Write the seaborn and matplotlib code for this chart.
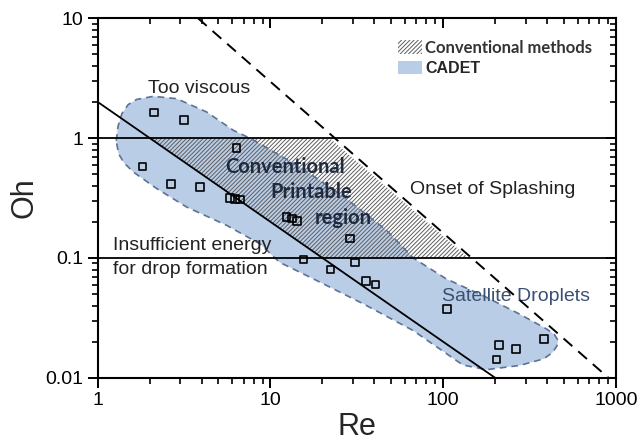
import numpy as np
import pandas as pd
import seaborn as sns
import matplotlib.pyplot as plt
from matplotlib.patches import Patch
from matplotlib.ticker import FixedLocator, NullFormatter

# measured printing points (Re, Oh)
re_pts = [2.12, 3.17, 6.37, 1.82, 2.65, 3.91, 5.83, 6.22, 6.64, 12.4, 13.3, 14.2,
          28.8, 15.5, 22.3, 30.8, 35.7, 40.5, 105.5, 210, 203, 264, 383]
oh_pts = [1.63, 1.42, 0.83, 0.58, 0.416, 0.39, 0.318, 0.312, 0.308, 0.219, 0.213, 0.203,
          0.145, 0.097, 0.080, 0.092, 0.064, 0.060, 0.0377, 0.0188, 0.0142, 0.0175, 0.0211]

# We = 4 limit (solid) and splashing limit (dashed)
we_re = [1, 200]
we_oh = [2.0, 0.01]
splash_re = [3.8, 905]
splash_oh = [10, 0.01]
z_limits = [1, 0.1]

# conventional printable region (hatched)
conv_re = [2.0, 22.0, 140, 20]
conv_oh = [1.0, 1.0, 0.1, 0.1]

# CADET region outline
cadet_re = [1.28, 1.31, 1.38, 1.5, 1.68, 2.1, 2.87, 4.27, 6.1, 7.8, 14.8, 25.2, 47, 67,
            104, 178, 277, 396, 440, 462, 455, 430, 381, 277, 178, 130, 67, 34.4,
            17.7, 11.3, 8.7, 5.58, 3.27, 2.19, 1.61, 1.42, 1.32]
cadet_oh = [0.95, 1.25, 1.6, 1.9, 2.1, 2.23, 2.13, 1.65, 1.16, 0.98, 0.573, 0.343, 0.17, 0.1,
            0.067, 0.047, 0.034, 0.0256, 0.023, 0.0205, 0.0185, 0.0163, 0.0144, 0.0127,
            0.0117, 0.0128, 0.0248, 0.0415, 0.067, 0.092, 0.131, 0.187, 0.266, 0.38, 0.52,
            0.62, 0.74]

x_major = [1, 10, 100, 1000]
y_major = [0.01, 0.1, 1, 10]

sns.set_style("ticks")
plt.rcParams['font.family'] = ['Liberation Sans', 'DejaVu Sans']
plt.rcParams['hatch.linewidth'] = 0.7
plt.rcParams['axes.edgecolor'] = 'black'

fig, ax = plt.subplots(figsize=(6.43, 4.43), dpi=100)
fig.subplots_adjust(left=0.152, right=0.958, top=0.959, bottom=0.147)

blue = '#bacde7'
hatch_col = '#5e5e5e'
ax.fill(cadet_re, cadet_oh, facecolor=blue, edgecolor='none', zorder=1)
ax.fill(conv_re, conv_oh, facecolor='none', edgecolor=hatch_col, lw=0,
        hatch='////////', zorder=2)
ax.fill(cadet_re, cadet_oh, facecolor='none', edgecolor='#5d7294', lw=1.2,
        linestyle=(0, (4, 3)), zorder=3)
for z in z_limits:
    ax.axhline(z, color='black', lw=1.3, zorder=4)
sns.lineplot(x=we_re, y=we_oh, color='black', lw=1.3, ax=ax, zorder=4)
sns.lineplot(x=splash_re, y=splash_oh, color='black', lw=1.4, ax=ax, zorder=4,
             linestyle=(0, (6, 4)))
df = pd.DataFrame({'Re': re_pts, 'Oh': oh_pts})
sns.scatterplot(data=df, x='Re', y='Oh', marker='s', s=30, facecolor='none',
                edgecolor='black', linewidth=1.2, ax=ax, zorder=5)

ax.set_xscale('log')
ax.set_yscale('log')
ax.set_xlim(1, 1000)
ax.set_ylim(0.01, 10)

# minor tick positions 2..9 in every decade
x_minor = [k * d for d in x_major[:-1] for k in range(2, 10)]
y_minor = [k * d for d in y_major[:-1] for k in range(2, 10)]

ax.xaxis.set_major_locator(FixedLocator(x_major))
ax.yaxis.set_major_locator(FixedLocator(y_major))
ax.set_xticklabels(['1', '10', '100', '1000'])
ax.set_yticklabels(['0.01', '0.1', '1', '10'])
ax.xaxis.set_minor_locator(FixedLocator(x_minor))
ax.yaxis.set_minor_locator(FixedLocator(y_minor))
ax.xaxis.set_minor_formatter(NullFormatter())
ax.yaxis.set_minor_formatter(NullFormatter())
ax.tick_params(axis='both', which='major', labelsize=14, length=7, width=1.4,
               direction='out', color='black', labelcolor='black')
ax.tick_params(axis='both', which='minor', length=4.5, width=1.2, direction='out',
               color='black')
for sp in ax.spines.values():
    sp.set_linewidth(1.5)
ax.set_xlabel('Re', fontsize=22, labelpad=2)
ax.set_ylabel('Oh', fontsize=22, labelpad=4)

# region annotations
ax.text(1.96, 2.6, 'Too viscous', fontsize=14, va='center', color='#222222')
bold = dict(family=['Lato', 'DejaVu Sans'], fontweight='bold', fontsize=14.5,
            color='#1e2a3f', va='center')
ax.text(5.45, 0.573, 'Conventional', **bold)
ax.text(9.94, 0.354, 'Printable', **bold)
ax.text(18.1, 0.217, 'region', **bold)
ax.text(64.2, 0.371, 'Onset of Splashing', fontsize=14, va='center', color='#222222')
ax.text(1.22, 0.127, 'Insufficient energy', fontsize=14, va='center', color='#222222')
ax.text(1.22, 0.080, 'for drop formation', fontsize=14, va='center', color='#222222')
ax.text(98, 0.0477, 'Satellite Droplets', fontsize=14, va='center', color='#3b4f73')

handles = [Patch(facecolor='white', edgecolor=hatch_col, lw=0, hatch='////////'),
           Patch(facecolor=blue, edgecolor='none')]
leg = ax.legend(handles, ['Conventional methods', 'CADET'], loc='upper left',
                bbox_to_anchor=(0.579, 0.94), frameon=False, borderpad=0,
                borderaxespad=0, handlelength=1.45, handleheight=0.85,
                handletextpad=0.2, labelspacing=0.3, fontsize=12)
t1, t2 = leg.get_texts()
t1.set_family(['Lato', 'DejaVu Sans'])
t1.set_fontweight('bold')
t1.set_color('#333333')
t2.set_fontweight('bold')
t2.set_fontsize(11.5)

# transparent overlay axes carrying the inward ticks on top and right
ax2 = fig.add_axes(ax.get_position())
ax2.patch.set_visible(False)
ax2.set_xscale('log')
ax2.set_yscale('log')
ax2.set_xlim(1, 1000)
ax2.set_ylim(0.01, 10)
ax2.xaxis.set_major_locator(FixedLocator(x_major))
ax2.yaxis.set_major_locator(FixedLocator(y_major))
ax2.xaxis.set_minor_locator(FixedLocator(x_minor))
ax2.yaxis.set_minor_locator(FixedLocator(y_minor))
for axis in (ax2.xaxis, ax2.yaxis):
    axis.set_major_formatter(NullFormatter())
    axis.set_minor_formatter(NullFormatter())
for sp in ax2.spines.values():
    sp.set_visible(False)
ax2.tick_params(axis='both', which='both', bottom=False, left=False, top=True, right=True,
                labelbottom=False, labelleft=False, labeltop=False, labelright=False,
                direction='in', color='black')
ax2.tick_params(axis='both', which='major', length=7, width=1.4)
ax2.tick_params(axis='both', which='minor', length=4.5, width=1.2)

fig.canvas.draw()
fig.savefig('out.png', dpi=100)
